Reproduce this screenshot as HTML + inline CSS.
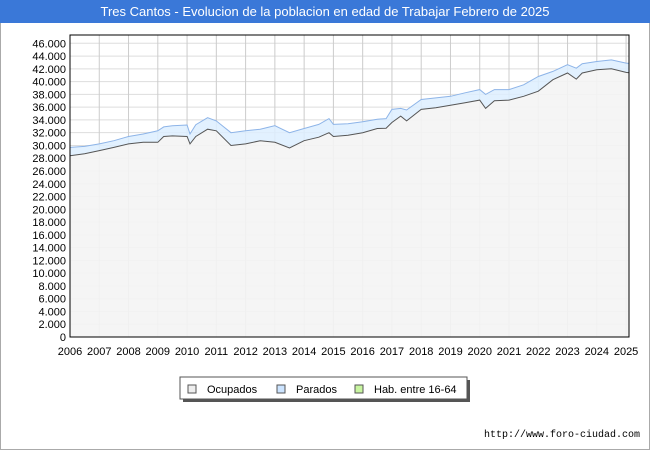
<!DOCTYPE html>
<html><head><meta charset="utf-8"><style>
body{margin:0;width:650px;height:450px;background:#fff;font-family:"Liberation Sans","DejaVu Sans",sans-serif;overflow:hidden}
</style></head><body>
<svg width="650" height="450" xmlns="http://www.w3.org/2000/svg">
<rect x="0.5" y="0.5" width="649" height="449" fill="#fff" stroke="#aaa"/>
<rect x="0" y="0" width="650" height="23" fill="#3a78d8"/>
<text x="325" y="16" text-anchor="middle" fill="#fff" font-size="13">Tres Cantos - Evolucion de la poblacion en edad de Trabajar Febrero de 2025</text>
<g id="plot"></g>
<g>
<rect x="183" y="380" width="287" height="22" fill="#555"/>
<rect x="180" y="377" width="287" height="22" fill="#fff" stroke="#555"/>
<rect x="188" y="385" width="8" height="8" fill="#eee" stroke="#555"/>
<text x="207" y="393" font-size="11" fill="#000">Ocupados</text>
<rect x="277" y="385" width="8" height="8" fill="#cce4ff" stroke="#555"/>
<text x="296" y="393" font-size="11" fill="#000">Parados</text>
<rect x="355" y="385" width="8" height="8" fill="#c8f5a0" stroke="#555"/>
<text x="374" y="393" font-size="11" fill="#000">Hab. entre 16-64</text>
</g>
<text x="640" y="437" text-anchor="end" font-size="10" fill="#000" font-family="Liberation Mono, monospace">http://www.foro-ciudad.com</text>
</svg>
<script>
const dates=[2006,2006.5,2007,2007.5,2008,2008.5,2009,2009.2,2009.5,2010,2010.1,2010.3,2010.7,2011,2011.5,2012,2012.5,2013,2013.5,2014,2014.5,2014.85,2015,2015.5,2016,2016.5,2016.8,2017,2017.3,2017.5,2018,2018.5,2019,2019.5,2020,2020.2,2020.5,2021,2021.5,2022,2022.5,2023,2023.3,2023.5,2024,2024.5,2025,2025.1];
const ocupados=[28400,28700,29200,29700,30250,30500,30500,31400,31500,31400,30250,31400,32550,32300,30000,30250,30750,30500,29600,30750,31300,32000,31400,31600,32000,32650,32700,33600,34600,33850,35650,35900,36300,36700,37100,35800,37000,37100,37700,38500,40300,41350,40400,41350,41850,42000,41450,41400];
const totales=[29700,29850,30250,30750,31400,31800,32300,32900,33100,33200,31800,33250,34350,33850,32000,32300,32550,33100,32000,32650,33300,34200,33300,33400,33700,34100,34200,35650,35800,35550,37200,37450,37700,38250,38750,38000,38750,38750,39500,40800,41600,42650,42100,42800,43150,43400,42900,42850];
const yTicks=[0,2000,4000,6000,8000,10000,12000,14000,16000,18000,20000,22000,24000,26000,28000,30000,32000,34000,36000,38000,40000,42000,44000,46000];
const xTicks=[2006,2007,2008,2009,2010,2011,2012,2013,2014,2015,2016,2017,2018,2019,2020,2021,2022,2023,2024,2025];
const X0=70,X1=629,Y0=337,YT=43.3;
const sx=d=>X0+(d-2006)/(2025.1-2006)*(X1-X0);
const sy=v=>Y0-v*(Y0-YT)/46000;
const NS="http://www.w3.org/2000/svg";
const plotG=document.getElementById('plot');
function mk(t,a){const e=document.createElementNS(NS,t);for(const k in a)e.setAttribute(k,a[k]);plotG.appendChild(e);return e;}
function fmt(v){return String(v).replace(/\B(?=(\d{3})+(?!\d))/g,'.');}
const bg=mk('rect',{x:X0,y:35,width:X1-X0,height:Y0-35,fill:'#fff'});


yTicks.forEach(v=>{
 const l=mk('line',{x1:X0,x2:X1,y1:sy(v),y2:sy(v),stroke:'#ddd'});
 
 
 const t=mk('text',{x:X0-4,y:sy(v)+4,'text-anchor':'end','font-size':'11',fill:'#000'});
 t.textContent=fmt(v);
 
 
});
xTicks.forEach(v=>{
 const l=mk('line',{x1:sx(v),x2:sx(v),y1:35,y2:Y0,stroke:'#ccc'});
 
 
 const t=mk('text',{x:sx(v),y:355,'text-anchor':'middle','font-size':'11',fill:'#000'});
 t.textContent=v;
 
 
});
const pts=arr=>arr.map((v,i)=>sx(dates[i]).toFixed(1)+','+sy(v).toFixed(1));
const topPts=pts(totales),botPts=pts(ocupados);
const band=mk('polygon',{points:topPts.join(' ')+' '+botPts.slice().reverse().join(' '),fill:'#ddeeff',opacity:'0.85'});


const area=mk('polygon',{points:botPts.join(' ')+' '+sx(dates[dates.length-1])+','+Y0+' '+X0+','+Y0,fill:'#f4f4f4',opacity:'0.9'});


const lt=mk('polyline',{points:topPts.join(' '),fill:'none',stroke:'#8db4e8','stroke-width':'1'});


const lb=mk('polyline',{points:botPts.join(' '),fill:'none',stroke:'#555','stroke-width':'1'});


const fr=mk('rect',{x:X0,y:35,width:X1-X0,height:Y0-35,fill:'none',stroke:'#000'});


</script>
</body></html>
